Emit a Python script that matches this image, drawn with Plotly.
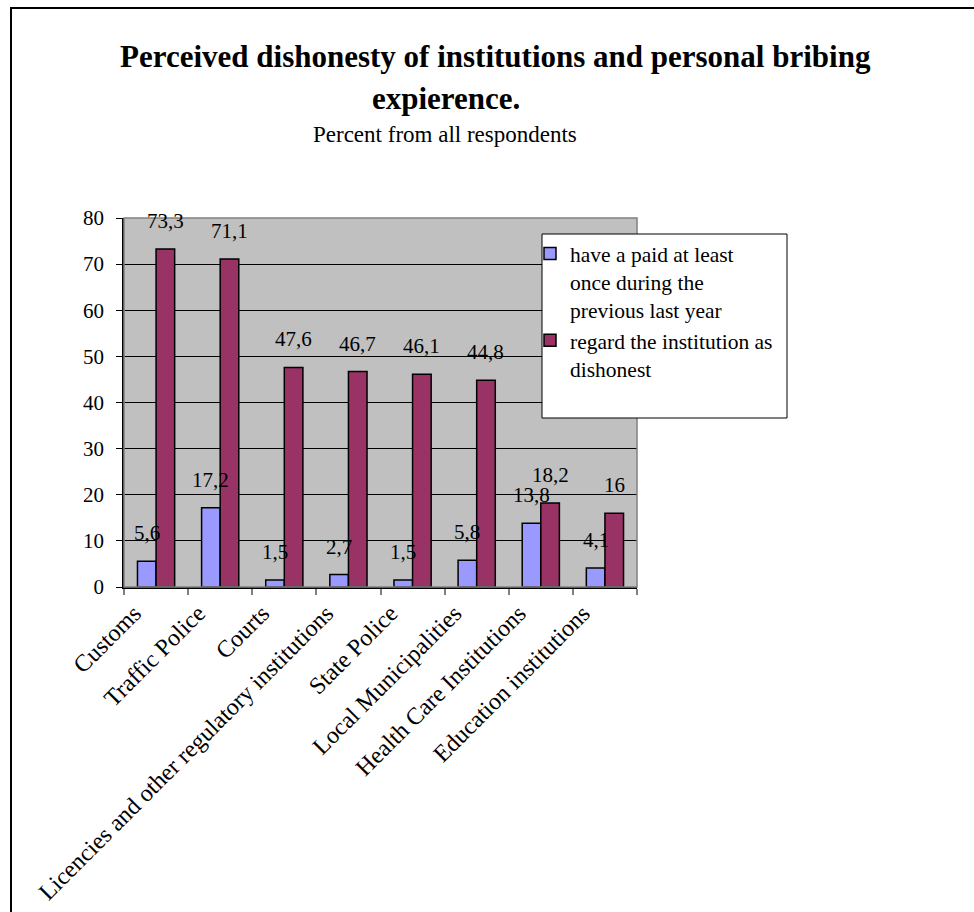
import plotly.graph_objects as go

categories = ["Customs", "Traffic Police", "Courts", "Licencies and other regulatory institutions",
              "State Police", "Local Municipalities", "Health Care Institutions", "Education institutions"]
paid = [5.6, 17.2, 1.5, 2.7, 1.5, 5.8, 13.8, 4.1]
dishonest = [73.3, 71.1, 47.6, 46.7, 46.1, 44.8, 18.2, 16]
series_names = ["have a paid at least<br>once during the<br>previous last year",
                "regard the institution as<br>dishonest"]
title_line1 = "Perceived dishonesty of institutions and personal bribing"
title_line2 = "expierence."
subtitle = "Percent from all respondents"
y_ticks = [0, 10, 20, 30, 40, 50, 60, 70, 80]

FONT = "Liberation Serif, Times New Roman, serif"
W, H = 974, 912
L, R, T, B = 124, 337, 218, 325
pw, ph = W - L - R, H - T - B

def px_x(x):
    return (x - L) / pw

def px_y(y):
    return (H - B - y) / ph

def fmt(v):
    return f"{v:g}".replace(".", ",")

fig = go.Figure()
fig.add_trace(go.Bar(x=categories, y=paid, name=series_names[0],
                     marker=dict(color="#9999FF", line=dict(color="black", width=1.5))))
fig.add_trace(go.Bar(x=categories, y=dishonest, name=series_names[1],
                     marker=dict(color="#993366", line=dict(color="black", width=1.5))))

bargap = 0.42
bar_px = pw / len(categories) * (1 - bargap) / 2
annotations = []
for vals, sh in ((paid, -bar_px / 2), (dishonest, bar_px / 2)):
    for c, v in zip(categories, vals):
        annotations.append(dict(x=c, y=v, text=fmt(v), showarrow=False, xref="x", yref="y",
                                xshift=sh, yshift=14, yanchor="bottom",
                                font=dict(family=FONT, size=21, color="black")))

annotations += [
    dict(text="<b>" + title_line1 + "</b>", x=px_x(495), y=px_y(56), xref="paper", yref="paper",
         showarrow=False, xanchor="center", yanchor="middle", font=dict(family=FONT, size=31, color="black")),
    dict(text="<b>" + title_line2 + "</b>", x=px_x(446), y=px_y(98), xref="paper", yref="paper",
         showarrow=False, xanchor="center", yanchor="middle", font=dict(family=FONT, size=31, color="black")),
    dict(text=subtitle, x=px_x(445), y=px_y(134), xref="paper", yref="paper",
         showarrow=False, xanchor="center", yanchor="middle", font=dict(family=FONT, size=23, color="black")),
]

shapes = [
    # outer border
    dict(type="rect", xref="paper", yref="paper", x0=px_x(11), x1=px_x(990), y0=px_y(930), y1=px_y(8),
         line=dict(color="black", width=2), fillcolor="rgba(0,0,0,0)", layer="below"),
    # plot area border
    dict(type="rect", xref="paper", yref="paper", x0=0, x1=1, y0=0, y1=1,
         line=dict(color="#808080", width=1.5), fillcolor="rgba(0,0,0,0)", layer="above"),
    # legend box
    dict(type="rect", xref="paper", yref="paper", x0=px_x(542), x1=px_x(787), y0=px_y(418), y1=px_y(234),
         line=dict(color="black", width=1), fillcolor="white", layer="above"),
]

fig.update_layout(
    width=W, height=H, autosize=False,
    margin=dict(l=L, r=R, t=T, b=B, pad=0, autoexpand=False),
    paper_bgcolor="white", plot_bgcolor="#C0C0C0",
    barmode="group", bargap=bargap, bargroupgap=0,
    font=dict(family=FONT, color="black"),
    showlegend=True,
    legend=dict(x=px_x(530), y=px_y(233), xanchor="left", yanchor="top",
                bgcolor="rgba(0,0,0,0)", borderwidth=0, valign="top",
                font=dict(family=FONT, size=21.5, color="black"), tracegroupgap=6),
    annotations=annotations, shapes=shapes,
)
fig.update_yaxes(range=[0, 80], tickvals=y_ticks, showgrid=True, gridcolor="black", gridwidth=1,
                 zeroline=False, showline=True, linecolor="black", linewidth=1.5, automargin=False,
                 ticks="outside", ticklen=6, tickcolor="black", ticklabelstandoff=8,
                 tickfont=dict(family=FONT, size=21, color="black"))
fig.update_xaxes(type="category", tickson="boundaries", ticks="outside", ticklen=6, tickcolor="#808080",
                 tickwidth=2, showline=True, linecolor="black", linewidth=1.5, showgrid=False,
                 automargin=False,
                 tickangle=-45, ticklabelstandoff=1, ticklabelshift=-22,
                 tickfont=dict(family=FONT, size=24, color="black"))

fig.write_html("out.html")
